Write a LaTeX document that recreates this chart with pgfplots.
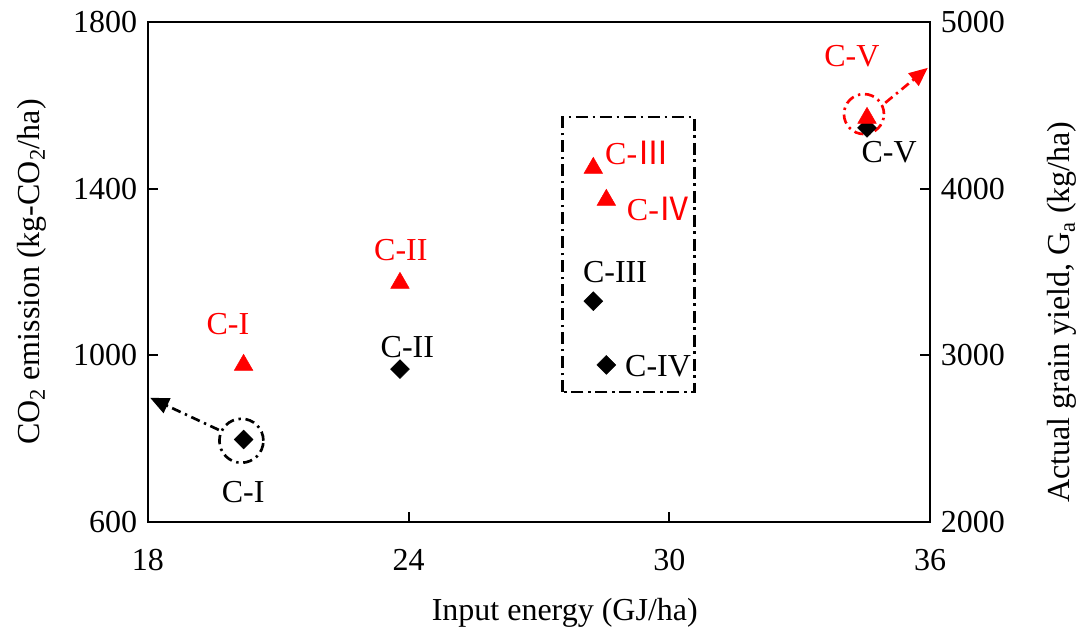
\documentclass[border=0pt]{standalone}
\usepackage{fontspec}
\setmainfont{Liberation Serif}
\newfontfamily\cjk{Noto Sans CJK SC}
\usepackage{pgfplots}
\pgfplotsset{compat=1.18}
\usetikzlibrary{arrows.meta}
\definecolor{myred}{RGB}{255,0,0}
\tikzset{dd/.style={dash pattern=on 7pt off 3.5pt on 1.8pt off 3.5pt}}
\begin{document}
\fontsize{24}{28}\selectfont
\begin{tikzpicture}[font=\fontsize{24}{28}\selectfont]
\path[use as bounding box] (-111pt,-84.75pt) rectangle (697.5pt,391.5pt);
\begin{axis}[
  at={(0,0)}, anchor=south west, scale only axis,
  width=586.5pt, height=375pt,
  xmin=18, xmax=36, ymin=600, ymax=1800,
  xtick={18,24,30,36}, ytick={600,1000,1400,1800},
  tick align=inside, xtick pos=bottom, ytick pos=left,
  major tick length=7.5pt,
  axis line style={line width=2.1pt},
  every tick/.style={black, line width=1.6pt},
  /pgf/number format/assume math mode=true,
  /pgf/number format/1000 sep={},
  tick label style={font=\fontsize{24}{28}\selectfont},
  xticklabel style={yshift=-12pt},
  clip=false,
  xlabel={Input energy (GJ/ha)},
  xlabel style={at={(rel axis cs:0.533,0)}, anchor=base, yshift=-74pt, font=\fontsize{24}{28}\selectfont},
  ylabel={CO\textsubscript{2} emission (kg-CO\textsubscript{2}/ha)},
  ylabel style={at={(rel axis cs:-0.1381,0.5)}, anchor=base, font=\fontsize{24}{28}\selectfont},
]
\addplot[only marks, mark=square*, mark size=5pt, mark options={rotate=45, fill=black, draw=black}] coordinates {
(20.2,798) (23.8,967) (28.25,1130) (28.55,977) (34.55,1546)
};
% annotations
\draw[black, line width=2pt, dd] (axis cs:20.15,795) circle[radius=16.5pt];
\draw[black, line width=2pt, dd, -{Triangle[length=14pt,width=12pt]}] (axis cs:19.63,821) -- (axis cs:18.05,898);
\draw[black, line width=2.2pt, dash pattern=on 9pt off 3.5pt on 2pt off 3.5pt] (axis cs:27.55,912) rectangle (axis cs:30.57,1572);
\draw[myred, line width=2pt, dd] (axis cs:34.48,1579) circle[radius=15pt];
\draw[myred, line width=2pt, dd, -{Triangle[length=14pt,width=12pt]}] (axis cs:34.97,1606) -- (axis cs:35.95,1690);
% labels
\node[inner sep=0pt, black] at (axis cs:20.19,672) {C-I};
\node[inner sep=0pt, black] at (axis cs:23.97,1020) {C-II};
\node[inner sep=0pt, black] at (axis cs:28.75,1199) {C-III};
\node[inner sep=0pt, black] at (axis cs:29.74,974) {C-IV};
\node[inner sep=0pt, black] at (axis cs:35.06,1488) {C-V};
\node[inner sep=0pt, myred] at (axis cs:19.84,1075) {C-I};
\node[inner sep=0pt, myred] at (axis cs:23.82,1253) {C-II};
\node[inner sep=0pt, myred] at (axis cs:29.26,1486) {C-{\cjk Ⅲ}};
\node[inner sep=0pt, myred] at (axis cs:29.76,1351) {C-{\cjk Ⅳ}};
\node[inner sep=0pt, myred] at (axis cs:34.2,1718) {C-V};
\end{axis}
\begin{axis}[
  at={(0,0)}, anchor=south west, scale only axis,
  width=586.5pt, height=375pt,
  xmin=18, xmax=36, ymin=2000, ymax=5000,
  ytick={2000,3000,4000,5000},
  axis x line=none, axis y line*=right,
  tick align=inside,
  major tick length=7.5pt,
  axis line style={line width=2.1pt},
  every tick/.style={black, line width=1.6pt},
  /pgf/number format/assume math mode=true,
  /pgf/number format/1000 sep={},
  tick label style={font=\fontsize{24}{28}\selectfont},
  clip=false,
  ylabel={Actual grain yield, G\textsubscript{a} (kg/ha)},
  ylabel style={at={(rel axis cs:1.179,0.42)}, anchor=base, font=\fontsize{24}{28}\selectfont},
]
\addplot[only marks, mark=triangle*, mark size=8pt, mark options={fill=myred, draw=myred}] coordinates {
(20.2,2942) (23.8,3434) (28.25,4124) (28.55,3932) (34.55,4424)
};
\end{axis}
\end{tikzpicture}
\end{document}
